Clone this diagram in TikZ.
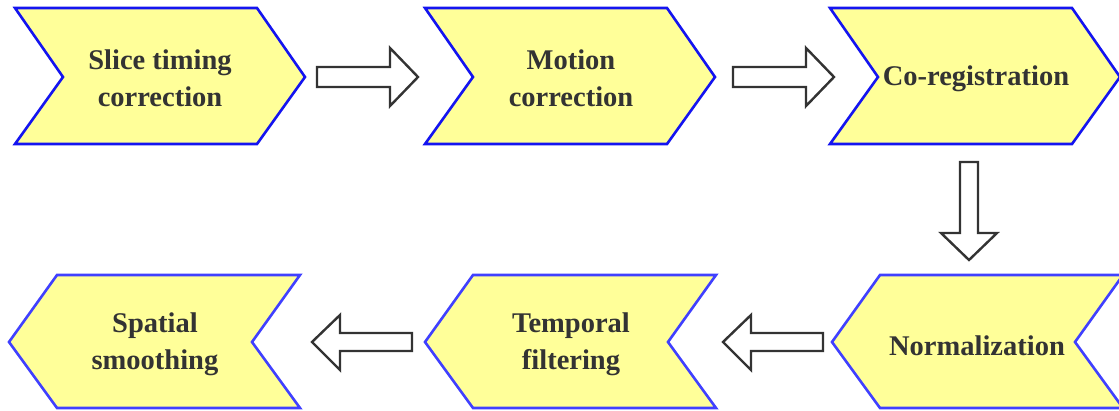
\documentclass[tikz,border=0pt]{standalone}
\usepackage{fontspec}
\setmainfont{Liberation Serif}
\definecolor{chevfill}{RGB}{255,255,153}
\definecolor{chevtop}{RGB}{20,20,240}
\definecolor{chevbot}{RGB}{64,64,255}
\definecolor{txtgray}{RGB}{51,51,51}
\definecolor{arrgray}{RGB}{51,51,51}
\tikzset{
  chevbox/.style={fill=chevfill, line width=2.6pt, line join=miter},
  blockarrow/.style={draw=arrgray, fill=white, line width=2.4pt, line join=miter},
  steplabel/.style={text=txtgray, align=center, font=\bfseries\fontsize{28.5}{37}\selectfont, inner sep=0pt}
}
\begin{document}
\begin{tikzpicture}[x=1pt,y=-1pt]
\useasboundingbox (0,0) rectangle (1119,410);
\fill[white] (0,0) rectangle (1119,410);
% top row chevrons (pointing right)
\foreach \L in {15,425,830}{
  \draw[chevbox, draw=chevtop] (\L,8) -- ++(242,0) -- ++(48,69) -- ++(-48,67) -- ++(-242,0) -- ++(48,-67) -- cycle;
}
% bottom row chevrons (pointing left)
\foreach \T in {9,425,832}{
  \draw[chevbox, draw=chevbot] (\T,342) -- ++(48,-67) -- ++(243,0) -- ++(-48,67) -- ++(48,66) -- ++(-243,0) -- cycle;
}
% labels
\node[steplabel] (slice) at (160,78) {Slice timing\\correction};
\node[steplabel] (motion) at (571,78) {Motion\\correction};
\node[steplabel] (coreg) at (976,79) {Co-registration};
\node[steplabel] (norm) at (977,346) {Normalization};
\node[steplabel] (temporal) at (571,344) {Temporal\\filtering};
\node[steplabel] (spatial) at (155,344) {Spatial\\smoothing};
% arrow anchor coordinates
\coordinate (a1) at (317,77);
\coordinate (a2) at (733,77);
\coordinate (a3) at (969,162);
\coordinate (a4) at (823,342);
\coordinate (a5) at (412,342);
% right arrows
\foreach \c in {a1,a2}{
  \draw[blockarrow] ([yshift=10pt]\c) -- ++(73,0) -- ++(0,-19) -- ++(28,29) -- ++(-28,29) -- ++(0,-19) -- ++(-73,0) -- cycle;
}
% down arrow
\draw[blockarrow] ([xshift=-9pt]a3) -- ++(18,0) -- ++(0,71) -- ++(19,0) -- ++(-28,27) -- ++(-28,-27) -- ++(19,0) -- cycle;
% left arrows
\foreach \c in {a4,a5}{
  \draw[blockarrow] ([yshift=9pt]\c) -- ++(-72,0) -- ++(0,-18) -- ++(-28,27) -- ++(28,28) -- ++(0,-19) -- ++(72,0) -- cycle;
}
\end{tikzpicture}
\end{document}
